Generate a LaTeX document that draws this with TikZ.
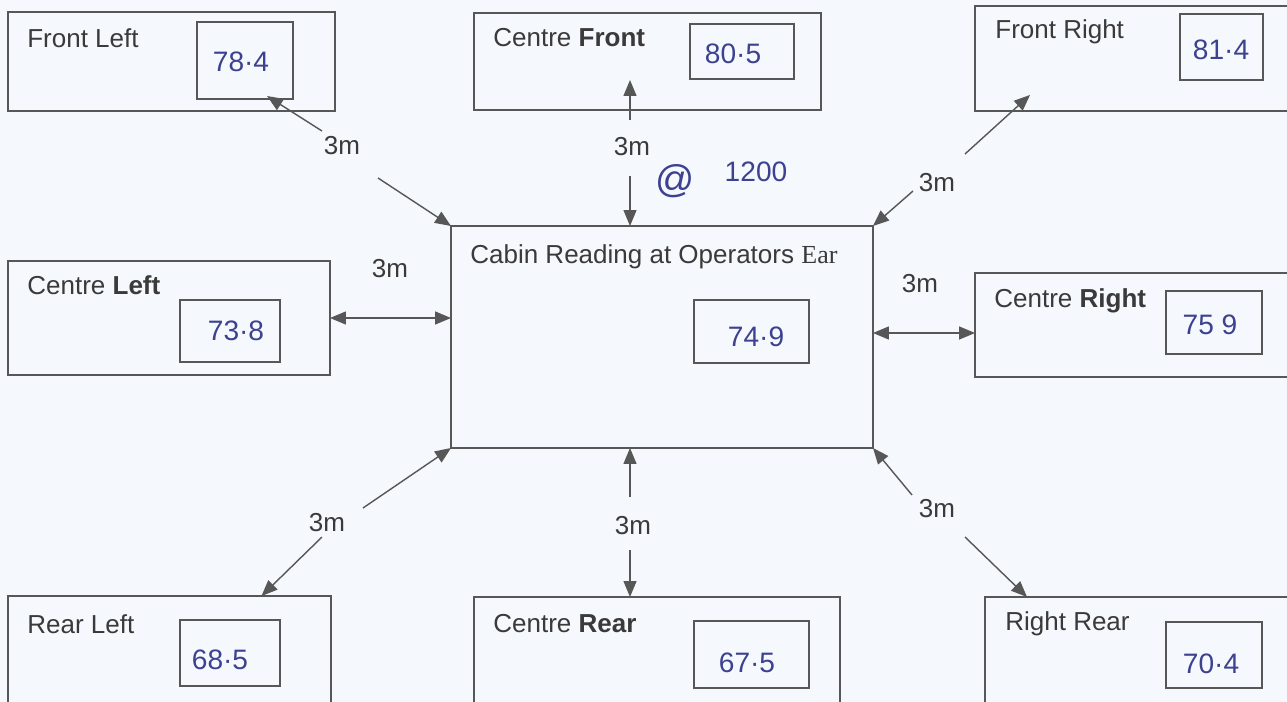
\documentclass[tikz,border=0pt]{standalone}
\usepackage{fontspec}
\setmainfont{Liberation Sans}
\newfontfamily\earfont{Liberation Serif}
\usetikzlibrary{arrows.meta,calc}
\definecolor{paper}{HTML}{F5F8FC}
\definecolor{linegray}{HTML}{575757}
\definecolor{textgray}{HTML}{3A3A3A}
\definecolor{ink}{HTML}{3C4190}

\begin{document}
\begin{tikzpicture}[x=0.02cm,y=-0.02cm]
	\tikzstyle{outer_box} = [rectangle, draw=linegray, line width=0.8pt, inner sep=0pt, outer sep=0pt]
	\tikzstyle{reading_box} = [rectangle, draw=linegray, line width=0.8pt, inner sep=0pt, outer sep=0pt]
	\tikzstyle{title} = [anchor=west, inner sep=0pt, text=textgray, font=\fontsize{14.8}{17}\selectfont]
	\tikzstyle{reading} = [inner sep=0pt, text=ink, font=\fontsize{16}{18}\selectfont]
	\tikzstyle{dist} = [inner sep=0pt, text=textgray, font=\fontsize{14.8}{17}\selectfont]
	\tikzstyle{arr} = [draw=linegray, line width=0.8pt, -{Triangle[length=3.2mm,width=2.6mm]}]
	\tikzstyle{darr} = [draw=linegray, line width=0.8pt, {Triangle[length=3.2mm,width=2.6mm]}-{Triangle[length=3.2mm,width=2.6mm]}]

	% Page
	\fill[paper] (0,0) rectangle (1287,702);
	\useasboundingbox (0,0) rectangle (1287,702);

	% Front row
	\node (FL) [outer_box, minimum width=6.54cm, minimum height=1.98cm] at (171.5,61.5) {};
	\node (FLv) [reading_box, minimum width=1.92cm, minimum height=1.54cm] at (245,60.5) {};
	\node (FLt) [title] at (27,38) {Front Left};
	\node (FLr) [reading] at (241,62) {78·4};

	\node (CF) [outer_box, minimum width=6.94cm, minimum height=1.94cm] at (647.5,61.5) {};
	\node (CFv) [reading_box, minimum width=2.08cm, minimum height=1.10cm] at (742,51.5) {};
	\node (CFt) [title] at (493,38) {Centre \textbf{Front}};
	\node (CFr) [reading] at (733,54) {80·5};

	\node (FR) [outer_box, minimum width=6.5cm, minimum height=2.10cm] at (1137.5,58.5) {};
	\node (FRv) [reading_box, minimum width=1.66cm, minimum height=1.32cm] at (1221.5,47) {};
	\node (FRt) [title] at (995,32) {Front Right};
	\node (FRr) [reading] at (1221,50) {81·4};

	% Middle row
	\node (CL) [outer_box, minimum width=6.44cm, minimum height=2.28cm] at (169,318) {};
	\node (CLv) [reading_box, minimum width=2.0cm, minimum height=1.24cm] at (230,331) {};
	\node (CLt) [title] at (27,285) {Centre \textbf{Left}};
	\node (CLr) [reading] at (236,331) {73·8};

	\node (cabin) [outer_box, minimum width=8.44cm, minimum height=4.44cm] at (662,337) {};
	\node (cabinv) [reading_box, minimum width=2.30cm, minimum height=1.26cm] at (751.5,331.5) {};
	\node (cabint) [title] at (470,257) {Cabin Reading at Operators {\earfont Ear}};
	\node (cabinr) [reading] at (756,337) {74·9};

	\node (CR) [outer_box, minimum width=6.5cm, minimum height=2.08cm] at (1137.5,325) {};
	\node (CRv) [reading_box, minimum width=1.92cm, minimum height=1.26cm] at (1214,322.5) {};
	\node (CRt) [title] at (994,301) {Centre \textbf{Right}};
	\node (CRr) [reading] at (1210,325) {75 9};

	% Rear row
	\node (RL) [outer_box, minimum width=6.46cm, minimum height=2.48cm] at (169.5,658) {};
	\node (RLv) [reading_box, minimum width=2.0cm, minimum height=1.32cm] at (230,653) {};
	\node (RLt) [title] at (27,624) {Rear Left};
	\node (RLr) [reading] at (220,660) {68·5};

	\node (CB) [outer_box, minimum width=7.32cm, minimum height=2.46cm] at (657,658.5) {};
	\node (CBv) [reading_box, minimum width=2.30cm, minimum height=1.34cm] at (751.5,654.5) {};
	\node (CBt) [title] at (493,624) {Centre \textbf{Rear}};
	\node (CBr) [reading] at (747,663) {67·5};

	\node (RR) [outer_box, minimum width=6.30cm, minimum height=2.46cm] at (1142.5,658.5) {};
	\node (RRv) [reading_box, minimum width=1.92cm, minimum height=1.32cm] at (1214,655) {};
	\node (RRt) [title] at (1005,624) {Right Rear};
	\node (RRr) [reading] at (1211,664) {70·4};

	% Engine speed note
	\node (at) [reading, font=\fontsize{22}{22}\selectfont] at (675,181) {@};
	\node (rpm) [reading] at (756,172) {1200};

	% Distances
	\node (dFL) [dist] at (342,146) {3m};
	\node (dCF) [dist] at (632,147) {3m};
	\node (dFR) [dist] at (937,183) {3m};
	\node (dCL) [dist] at (390,269) {3m};
	\node (dCR) [dist] at (920,284) {3m};
	\node (dRL) [dist] at (327,523) {3m};
	\node (dCB) [dist] at (633,526) {3m};
	\node (dRR) [dist] at (937,509) {3m};

	\coordinate (fl1) at (322,131);
	\coordinate (fl2) at (378,178);
	\coordinate (cf1) at (630,120);
	\coordinate (cf2) at (630,176);
	\coordinate (fr1) at (965,154);
	\coordinate (fr2) at (913,191);
	\coordinate (rl1) at (363,508);
	\coordinate (rl2) at (322,537);
	\coordinate (cb1) at (630,497);
	\coordinate (cb2) at (630,550);
	\coordinate (rr1) at (912,495);
	\coordinate (rr2) at (965,537);

	\draw[arr] (fl1) -- ($(FLv.south)+(22,-3)$);
	\draw[arr] (fl2) -- (cabin.north west);
	\draw[arr] (cf1) -- ($(cf1 |- CF.south)+(0,-30)$);
	\draw[arr] (cf2) -- (cf2 |- cabin.north);
	\draw[arr] (fr1) -- ($(FR.south west)+(55,-16)$);
	\draw[arr] (fr2) -- (cabin.north east);
	\draw[darr] (CL.east) -- (CL.east -| cabin.west);
	\draw[darr] ($(cabin.east |- CR.west)+(0,8)$) -- ($(CR.west)+(0,8)$);
	\draw[arr] (rl1) -- (cabin.south west);
	\draw[arr] (rl2) -- ($(RL.north)+(92,0)$);
	\draw[arr] (cb1) -- (cb1 |- cabin.south);
	\draw[arr] (cb2) -- (cb2 |- CB.north);
	\draw[arr] (rr1) -- (cabin.south east);
	\draw[arr] (rr2) -- ($(RR.north west)+(42,0)$);
\end{tikzpicture}
\end{document}
